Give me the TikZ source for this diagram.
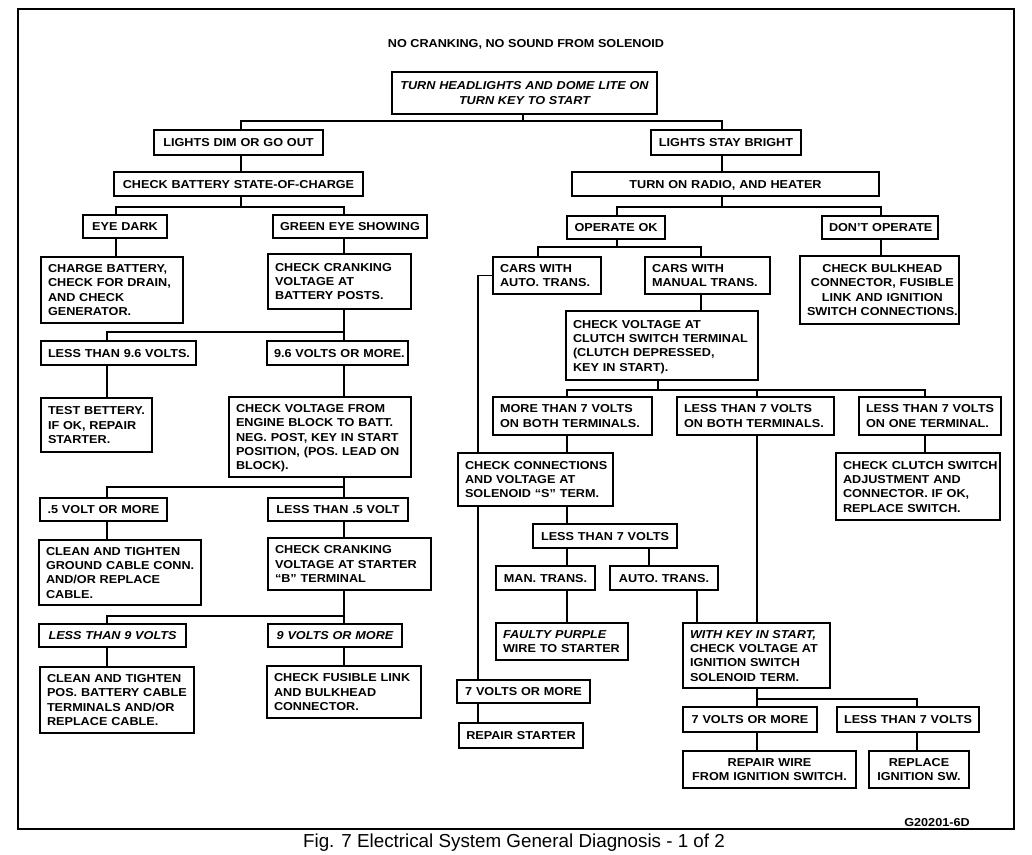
\documentclass[tikz,border=0pt]{standalone}
\usepackage{fontspec}
\setmainfont{Liberation Sans}[FakeStretch=1.1]
\newfontfamily\capfont{Liberation Sans}
\newcommand\Bx[8]{% #1 align, #2 column type, #3 name, #4 x1, #5 y1, #6 x2, #7 y2, #8 text
  \pgfmathsetmacro\bw{#6-#4}%
  \pgfmathsetmacro\bh{#7-#5}%
  \pgfmathsetmacro\tw{#6-#4-14}%
  \pgfmathsetmacro\cx{(#4+#6)/2}%
  \pgfmathsetmacro\cy{(#5+#7)/2}%
  \node[dbox, align=#1, text width=\tw pt, minimum width=\bw pt, minimum height=\bh pt] (#3) at (\cx,\cy)
    {\raisebox{-1.2pt}[\height][\depth]{\begin{tabular}{@{}#2@{}}#8\end{tabular}}};}
\begin{document}
\begin{tikzpicture}[x=1pt,y=-1pt,
  dbox/.style={draw, line width=1.6pt, inner xsep=7pt, inner ysep=0pt, font=\bfseries\fontsize{11.5}{14.3}\selectfont},
  wire/.style={line width=1.4pt},
  lbl/.style={font=\bfseries\fontsize{11.5}{14}\selectfont, inner sep=0pt}]
\useasboundingbox (0,0) rectangle (1032,854);
\fill[white] (0,0) rectangle (1032,854);
\draw[line width=1.8pt] (18,9) rectangle (1014,829);

\node[lbl] (title) at (526,44) {NO CRANKING, NO SOUND FROM SOLENOID};
\node[lbl] (code) at (937,823) {G20201-6D};
\node[font=\capfont\fontsize{18.8}{20}\selectfont, inner sep=0pt] (cap) at (514,843) {Fig. 7 Electrical System General Diagnosis - 1 of 2};

% boxes
\Bx{center}{c}{top}{392}{72}{657}{114}{\itshape TURN HEADLIGHTS AND DOME LITE ON\\\itshape TURN KEY TO START}
\Bx{center}{c}{dim}{154}{130}{323}{155}{LIGHTS DIM OR GO OUT}
\Bx{center}{c}{bright}{651}{130}{801}{155}{LIGHTS STAY BRIGHT}
\Bx{center}{c}{batt}{114}{172}{363}{196}{CHECK BATTERY STATE-OF-CHARGE}
\Bx{center}{c}{radio}{572}{172}{879}{196}{TURN ON RADIO, AND HEATER}
\Bx{center}{c}{eyedark}{83}{215}{167}{238}{EYE DARK}
\Bx{center}{c}{green}{273}{215}{427}{238}{GREEN EYE SHOWING}
\Bx{center}{c}{opok}{567}{216}{665}{239}{OPERATE OK}
\Bx{center}{c}{dont}{822}{216}{938}{239}{DON’T OPERATE}
\Bx{left}{l}{charge}{41}{257}{183}{323}{CHARGE BATTERY,\\CHECK FOR DRAIN,\\AND CHECK\\GENERATOR.}
\Bx{left}{l}{crank1}{268}{254}{411}{309}{CHECK CRANKING\\VOLTAGE AT\\BATTERY POSTS.}
\Bx{center}{c}{bulk}{800}{256}{959}{324}{CHECK BULKHEAD\\CONNECTOR, FUSIBLE\\LINK AND IGNITION\\SWITCH CONNECTIONS.}
\Bx{left}{l}{auto}{493}{257}{601}{294}{CARS WITH\\AUTO. TRANS.}
\Bx{left}{l}{manual}{645}{257}{770}{294}{CARS WITH\\MANUAL TRANS.}
\Bx{left}{l}{clutch}{566}{311}{758}{380}{CHECK VOLTAGE AT\\CLUTCH SWITCH TERMINAL\\(CLUTCH DEPRESSED,\\KEY IN START).}
\Bx{center}{c}{lt96}{41}{341}{196}{365}{LESS THAN 9.6 VOLTS.}
\Bx{center}{c}{ge96}{267}{341}{408}{365}{9.6 VOLTS OR MORE.}
\Bx{left}{l}{more7both}{493}{397}{652}{435}{MORE THAN 7 VOLTS\\ON BOTH TERMINALS.}
\Bx{left}{l}{less7both}{677}{397}{834}{435}{LESS THAN 7 VOLTS\\ON BOTH TERMINALS.}
\Bx{left}{l}{less7one}{859}{397}{1001}{435}{LESS THAN 7 VOLTS\\ON ONE TERMINAL.}
\Bx{left}{l}{testbatt}{41}{398}{152}{452}{TEST BETTERY.\\IF OK, REPAIR\\STARTER.}
\Bx{left}{l}{engblock}{229}{397}{411}{477}{CHECK VOLTAGE FROM\\ENGINE BLOCK TO BATT.\\NEG. POST, KEY IN START\\POSITION, (POS. LEAD ON\\BLOCK).}
\Bx{left}{l}{clutchadj}{836}{453}{1000}{520}{CHECK CLUTCH SWITCH\\ADJUSTMENT AND\\CONNECTOR. IF OK,\\REPLACE SWITCH.}
\Bx{left}{l}{checkconn}{458}{453}{613}{506}{CHECK CONNECTIONS\\AND VOLTAGE AT\\SOLENOID “S” TERM.}
\Bx{center}{c}{ge05}{40}{498}{167}{521}{.5 VOLT OR MORE}
\Bx{center}{c}{lt05}{268}{498}{408}{521}{LESS THAN .5 VOLT}
\Bx{center}{c}{less7}{533}{524}{677}{548}{LESS THAN 7 VOLTS}
\Bx{left}{l}{ground}{39}{540}{201}{605}{CLEAN AND TIGHTEN\\GROUND CABLE CONN.\\AND/OR REPLACE\\CABLE.}
\Bx{left}{l}{crankB}{268}{538}{431}{590}{CHECK CRANKING\\VOLTAGE AT STARTER\\“B” TERMINAL}
\Bx{center}{c}{mantr}{496}{566}{595}{590}{MAN. TRANS.}
\Bx{center}{c}{autotr}{610}{566}{718}{590}{AUTO. TRANS.}
\Bx{center}{c}{lt9}{39}{624}{186}{647}{\itshape LESS THAN 9 VOLTS}
\Bx{center}{c}{ge9}{268}{624}{402}{647}{\itshape 9 VOLTS OR MORE}
\Bx{left}{l}{faulty}{496}{623}{628}{660}{\itshape FAULTY PURPLE\\WIRE TO STARTER}
\Bx{left}{l}{withkey}{683}{623}{830}{688}{\itshape WITH KEY IN START,\\CHECK VOLTAGE AT\\IGNITION SWITCH\\SOLENOID TERM.}
\Bx{left}{l}{poscable}{40}{667}{194}{733}{CLEAN AND TIGHTEN\\POS. BATTERY CABLE\\TERMINALS AND/OR\\REPLACE CABLE.}
\Bx{left}{l}{fusible}{267}{666}{421}{718}{CHECK FUSIBLE LINK\\AND BULKHEAD\\CONNECTOR.}
\Bx{center}{c}{sevenL}{457}{680}{590}{703}{7 VOLTS OR MORE}
\Bx{center}{c}{repstarter}{459}{723}{583}{748}{REPAIR STARTER}
\Bx{center}{c}{sevenR}{683}{707}{817}{732}{7 VOLTS OR MORE}
\Bx{center}{c}{less7R}{837}{707}{979}{732}{LESS THAN 7 VOLTS}
\Bx{center}{c}{repwire}{683}{751}{856}{788}{REPAIR WIRE\\FROM IGNITION SWITCH.}
\Bx{center}{c}{replign}{869}{751}{969}{788}{REPLACE\\IGNITION SW.}

% x columns
\foreach \xx in {107,116,241,344,478,523,538,567,617,649,658,697,701,722,757,881,917,925}
  \coordinate (c\xx) at (\xx,0);

% connectors
\coordinate (b1) at (523,121);
\draw[wire] (top.south -| b1) -- (b1);
\draw[wire] (dim.north -| c241) |- (b1) -| (bright.north -| c722);
\draw[wire] (dim.south -| c241) -- (batt.north -| c241);
\draw[wire] (bright.south -| c722) -- (radio.north -| c722);
\coordinate (b2) at (241,207);
\draw[wire] (batt.south -| b2) -- (b2);
\draw[wire] (eyedark.north -| c116) |- (b2) -| (green.north -| c344);
\coordinate (b3) at (722,207);
\draw[wire] (radio.south -| b3) -- (b3);
\draw[wire] (opok.north -| c617) |- (b3) -| (dont.north -| c881);
\draw[wire] (eyedark.south -| c116) -- (charge.north -| c116);
\draw[wire] (green.south -| c344) -- (crank1.north -| c344);
\draw[wire] (dont.south -| c881) -- (bulk.north -| c881);
\coordinate (b4) at (617,247);
\draw[wire] (opok.south -| b4) -- (b4);
\draw[wire] (auto.north -| c538) |- (b4) -| (manual.north -| c701);
\draw[wire] (manual.south -| c701) -- (clutch.north -| c701);
\coordinate (b5) at (344,332);
\draw[wire] (crank1.south -| b5) -- (b5);
\draw[wire] (lt96.north -| c107) |- (b5) -- (ge96.north -| b5);
\draw[wire] (lt96.south -| c107) -- (testbatt.north -| c107);
\draw[wire] (ge96.south -| c344) -- (engblock.north -| c344);
\coordinate (b6) at (658,390);
\draw[wire] (clutch.south -| b6) -- (b6);
\draw[wire] (more7both.north -| c567) |- (b6) -| (less7one.north -| c925);
\draw[wire] (less7both.north -| c757) -- (b6 -| c757);
\draw[wire] (more7both.south -| c567) -- (checkconn.north -| c567);
\draw[wire] (less7both.south -| c757) -- (withkey.north -| c757);
\draw[wire] (less7one.south -| c925) -- (clutchadj.north -| c925);
\draw[wire] (auto.west) -| (checkconn.north -| c478);
\draw[wire] (checkconn.south -| c478) -- (sevenL.north -| c478);
\draw[wire] (sevenL.south -| c478) -- (repstarter.north -| c478);
\draw[wire] (checkconn.south -| c567) -- (less7.north -| c567);
\draw[wire] (less7.south -| c567) -- (mantr.north -| c567);
\draw[wire] (less7.south -| c649) -- (autotr.north -| c649);
\draw[wire] (mantr.south -| c567) -- (faulty.north -| c567);
\draw[wire] (autotr.south -| c697) -- (withkey.north -| c697);
\coordinate (b7) at (757,699);
\draw[wire] (withkey.south -| b7) -- (b7);
\draw[wire] (sevenR.north -| b7) -- (b7) -| (less7R.north -| c917);
\draw[wire] (sevenR.south -| c757) -- (repwire.north -| c757);
\draw[wire] (less7R.south -| c917) -- (replign.north -| c917);
\coordinate (b8) at (344,487);
\draw[wire] (engblock.south -| b8) -- (b8);
\draw[wire] (ge05.north -| c107) |- (b8) -- (lt05.north -| b8);
\draw[wire] (ge05.south -| c107) -- (ground.north -| c107);
\draw[wire] (lt05.south -| c344) -- (crankB.north -| c344);
\coordinate (b9) at (344,616);
\draw[wire] (crankB.south -| b9) -- (b9);
\draw[wire] (lt9.north -| c107) |- (b9) -- (ge9.north -| b9);
\draw[wire] (lt9.south -| c107) -- (poscable.north -| c107);
\draw[wire] (ge9.south -| c344) -- (fusible.north -| c344);
\end{tikzpicture}
\end{document}
